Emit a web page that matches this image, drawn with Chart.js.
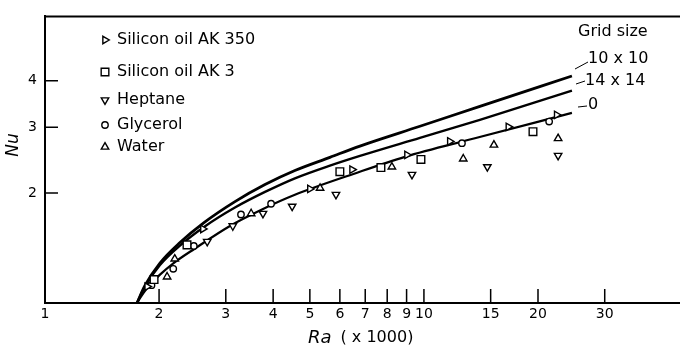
<!DOCTYPE html>
<html lang="en">
<head>
<meta charset="UTF-8">
<title>Nu vs Ra</title>
<script src="https://cdn.jsdelivr.net/npm/chart.js@4"></script>
<style>
  body { margin: 0; background: #fff; }
  #wrap { width: 680px; height: 349px; position: relative; overflow: hidden; }
</style>
</head>
<body>
<div id="wrap"><canvas id="nuChart"></canvas></div>
<script>
// measured points, Ra in thousands
const ak350Ra = [1.86, 2.61, 5.00, 6.46, 9.02, 11.7, 16.7, 22.4];
const ak350Nu = [1.12, 1.60, 2.05, 2.31, 2.53, 2.75, 3.01, 3.24];
const ak3Ra = [1.94, 2.37, 6.00, 7.70, 9.82, 19.4];
const ak3Nu = [1.17, 1.45, 2.28, 2.34, 2.46, 2.92];
const heptaneRa = [2.68, 3.13, 3.76, 4.49, 5.86, 9.30, 14.7, 22.6];
const heptaneNu = [1.48, 1.63, 1.76, 1.84, 1.98, 2.24, 2.35, 2.52];
const glycerolRa = [1.91, 2.18, 2.47, 3.29, 3.95, 12.6, 21.4];
const glycerolNu = [1.13, 1.25, 1.44, 1.75, 1.87, 2.72, 3.11];
const waterRa = [2.10, 2.20, 3.50, 5.32, 8.23, 12.7, 15.3, 22.6];
const waterNu = [1.19, 1.33, 1.76, 2.06, 2.35, 2.47, 2.69, 2.80];

// computed curves for each grid size
const curveRa = [1.749, 1.836, 2.011, 2.271, 2.628, 3.172, 3.807, 4.566, 5.649, 6.779, 9.76, 14.05, 24.58];
const grid10Nu = [1.012, 1.128, 1.296, 1.471, 1.664, 1.895, 2.106, 2.297, 2.492, 2.672, 3.020, 3.416, 4.123];
const grid14Nu = [1.012, 1.121, 1.280, 1.444, 1.620, 1.827, 2.012, 2.189, 2.368, 2.515, 2.812, 3.144, 3.766];
const grid0Ra = [1.749, 1.781, 1.858, 2.011, 2.177, 2.488, 3.077, 3.738, 4.566, 6.576, 8.91, 13.63, 24.58];
const grid0Nu = [1.012, 1.043, 1.108, 1.206, 1.292, 1.418, 1.630, 1.805, 1.976, 2.256, 2.500, 2.804, 3.280];

const xTicks = [1, 2, 3, 4, 5, 6, 7, 8, 9, 10, 15, 20, 30];
const yTicks = [2, 3, 4];

const legendItems = [
  { text: 'Silicon oil AK 350', style: 'triangle', rot: 90, r: 4.3, y: 40 },
  { text: 'Silicon oil AK 3', style: 'rect', rot: 0, r: 5.4, y: 72 },
  { text: 'Heptane', style: 'triangle', rot: 180, r: 4.3, y: 100 },
  { text: 'Glycerol', style: 'circle', rot: 0, r: 3.2, y: 125 },
  { text: 'Water', style: 'triangle', rot: 0, r: 4.3, y: 147 }
];

const pts = (xs, ys) => xs.map((v, i) => ({ x: v, y: ys[i] }));

function markers(xs, ys, style, rot, r) {
  return {
    data: pts(xs, ys),
    pointStyle: style,
    rotation: rot,
    pointRadius: r,
    pointBackgroundColor: '#fff',
    pointBorderColor: '#000',
    pointBorderWidth: 1.4,
    showLine: false
  };
}

function curve(xs, ys, w) {
  return {
    data: pts(xs, ys),
    showLine: true,
    borderColor: '#000',
    borderWidth: w,
    pointRadius: 0,
    cubicInterpolationMode: 'monotone'
  };
}

const FONT = '"DejaVu Sans", sans-serif';

// frame, inward ticks, legend and curve labels
const decorations = {
  id: 'decorations',
  afterDraw(chart) {
    const { ctx, chartArea: a, scales: { x, y } } = chart;
    ctx.save();
    ctx.strokeStyle = '#000';
    ctx.fillStyle = '#000';

    ctx.lineWidth = 2;
    ctx.beginPath();
    ctx.moveTo(a.left - 1, a.top);
    ctx.lineTo(a.right, a.top);
    ctx.stroke();

    ctx.lineWidth = 1.5;
    ctx.beginPath();
    xTicks.forEach(v => {
      if (v === 1) return;
      const px = x.getPixelForValue(v);
      ctx.moveTo(px, a.bottom);
      ctx.lineTo(px, a.bottom - 14);
    });
    yTicks.forEach(v => {
      const py = y.getPixelForValue(v);
      ctx.moveTo(a.left, py);
      ctx.lineTo(a.left + 13, py);
    });
    ctx.stroke();

    // axis titles
    ctx.textBaseline = 'middle';
    ctx.save();
    ctx.translate(14, 145);
    ctx.rotate(-Math.PI / 2);
    ctx.textAlign = 'center';
    ctx.font = 'italic 17px ' + FONT;
    ctx.fillText('Nu', 0, 0);
    ctx.restore();

    ctx.textAlign = 'left';
    ctx.font = 'italic 18px ' + FONT;
    ctx.fillText('Ra', 308, 338);
    const raW = ctx.measureText('Ra').width;
    ctx.font = '16px ' + FONT;
    ctx.fillText('( x 1000)', 308 + raW + 9, 338);

    // legend
    legendItems.forEach(it => {
      ctx.save();
      ctx.fillStyle = '#fff';
      ctx.lineWidth = 1.4;
      Chart.helpers.drawPoint(ctx, { pointStyle: it.style, rotation: it.rot, radius: it.r, borderWidth: 1.4 }, 105, it.y);
      ctx.restore();
      ctx.font = '16px ' + FONT;
      ctx.fillText(it.text, 117, it.y);
    });

    // grid size labels with leader lines
    ctx.font = '16px ' + FONT;
    ctx.fillText('Grid size', 578, 32);
    ctx.fillText('10 x 10', 588, 59);
    ctx.fillText('14 x 14', 585, 81);
    ctx.fillText('0', 588, 105);
    ctx.lineWidth = 1;
    ctx.beginPath();
    ctx.moveTo(575, 69); ctx.lineTo(588, 62);
    ctx.moveTo(576, 84); ctx.lineTo(585, 81);
    ctx.moveTo(578, 107); ctx.lineTo(587, 106);
    ctx.stroke();
    ctx.restore();
  }
};

new Chart(document.getElementById('nuChart'), {
  type: 'scatter',
  data: {
    datasets: [
      markers(ak350Ra, ak350Nu, 'triangle', 90, 4.3),
      markers(ak3Ra, ak3Nu, 'rect', 0, 5.4),
      markers(heptaneRa, heptaneNu, 'triangle', 180, 4.3),
      markers(glycerolRa, glycerolNu, 'circle', 0, 3.2),
      markers(waterRa, waterNu, 'triangle', 0, 4.3),
      curve(curveRa, grid10Nu, 2.8),
      curve(curveRa, grid14Nu, 2.4),
      curve(grid0Ra, grid0Nu, 2.2)
    ]
  },
  options: {
    responsive: true,
    maintainAspectRatio: false,
    animation: false,
    layout: { autoPadding: false, padding: { top: 9, right: 0, left: 0, bottom: 0 } },
    plugins: { legend: { display: false }, tooltip: { enabled: false } },
    scales: {
      x: {
        type: 'logarithmic',
        min: 1,
        max: 47.4,
        afterBuildTicks: s => { s.ticks = xTicks.map(v => ({ value: v })); },
        afterFit: s => { s.height = 46; s.paddingRight = 0; },
        grid: { display: false, drawTicks: false },
        border: { color: '#000', width: 2 },
        ticks: {
          autoSkip: false,
          maxRotation: 0,
          padding: 3,
          color: '#000',
          font: { family: FONT, size: 14 },
          callback: v => String(v)
        }
      },
      y: {
        type: 'logarithmic',
        min: 1.012,
        max: 5.96,
        afterBuildTicks: s => { s.ticks = yTicks.map(v => ({ value: v })); },
        afterFit: s => { s.width = 45; },
        grid: { display: false, drawTicks: false },
        border: { color: '#000', width: 2 },
        ticks: {
          padding: 8,
          color: '#000',
          font: { family: FONT, size: 14 },
          callback: v => String(v)
        }
      }
    }
  },
  plugins: [decorations]
});
</script>
</body>
</html>
